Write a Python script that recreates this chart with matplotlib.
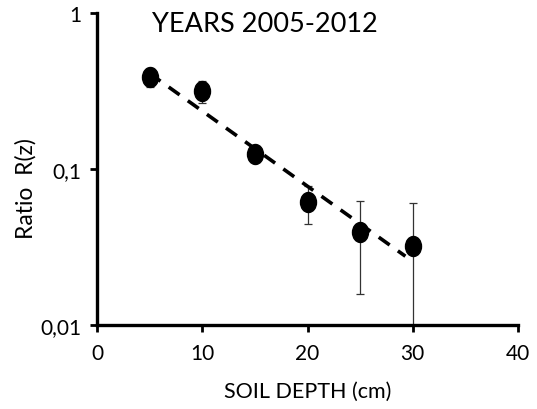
import numpy as np
import matplotlib
matplotlib.use("Agg")
import matplotlib.pyplot as plt
from matplotlib.path import Path
from matplotlib.transforms import Affine2D
from matplotlib.ticker import NullLocator

plt.rcParams['font.family'] = ['Lato', 'DejaVu Sans']

# data
depth = [5, 10, 15, 20, 25, 30]
ratio = [0.391, 0.315, 0.125, 0.0611, 0.0393, 0.0319]
ratio_err = [0.054, 0.051, 0.010, 0.0168, 0.0235, 0.0284]

fit_depth = [5, 29.3]
fit_ratio = [0.41, 0.0276]

ytick_vals = [0.01, 0.1, 1]
ytick_labels = ['0,01', '0,1', '1']
xtick_vals = [0, 10, 20, 30, 40]

fig = plt.figure(figsize=(5.37, 4.10), dpi=100)
ax = fig.add_axes([97 / 537, 1 - 326 / 410, 421 / 537, 312 / 410])

# slightly tall elliptic marker
ell = Affine2D().scale(0.8, 1.0).transform_path(Path.unit_circle())

ax.errorbar(depth, ratio, yerr=ratio_err, fmt='none', ecolor='#333333',
            elinewidth=0.9, capsize=3.2, capthick=0.9, zorder=2)
ax.plot(depth, ratio, linestyle='none', marker=ell, markersize=14.4,
        color='black', zorder=3)
ax.plot(fit_depth, fit_ratio, color='black', lw=2.6, dashes=(3.7, 2.8),
        dash_capstyle='butt', zorder=4)

ax.set_yscale('log')
ax.set_ylim(0.01, 1)
ax.set_xlim(0, 40)
ax.set_yticks(ytick_vals, labels=ytick_labels)
ax.set_xticks(xtick_vals)
ax.yaxis.set_minor_locator(NullLocator())

for side in ['top', 'right']:
    ax.spines[side].set_visible(False)
for side in ['left', 'bottom']:
    ax.spines[side].set_linewidth(2.4)

ax.tick_params(axis='both', direction='out', length=5, width=2, labelsize=15)
ax.tick_params(axis='y', pad=6)
ax.tick_params(axis='x', pad=8)

ax.set_xlabel('SOIL DEPTH (cm)', fontsize=15.5, va='center')
ax.set_ylabel('Ratio  R(z)', fontsize=16.5, va='center')
ax.xaxis.set_label_coords(0.5, 1 - (391.7 - 14) / 312)
ax.yaxis.set_label_coords(-(97 - 25.5) / 421, 1 - (189 - 14) / 312)

fig.text(152 / 537, 1 - 24 / 410, 'YEARS 2005-2012', ha='left', va='center',
         fontsize=19.5)

fig.savefig('out.png', dpi=100)
